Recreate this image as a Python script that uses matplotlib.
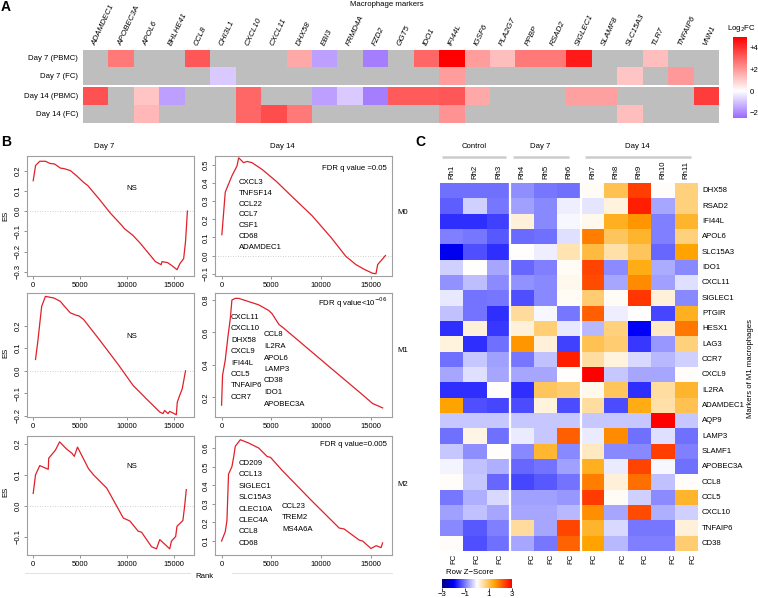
import numpy as np
import matplotlib
matplotlib.use('Agg')
import matplotlib.pyplot as plt
from matplotlib.colors import LinearSegmentedColormap
from matplotlib.lines import Line2D

plt.rcParams['font.family'] = ['Liberation Sans', 'DejaVu Sans']

# ---------------- Panel A data ----------------
genes_a = ['ADAMDEC1', 'APOBEC3A', 'APOL6', 'BHLHE41', 'CCL8', 'CHI3L1', 'CXCL10', 'CXCL11',
           'DHX58', 'EBI3', 'FRMD4A', 'FZD2', 'GGT5', 'IDO1', 'IFI44L', 'IGSF6', 'PLA2G7',
           'PPBP', 'RSAD2', 'SIGLEC1', 'SLAMF8', 'SLC15A3', 'TLR7', 'TNFAIP6', 'VNN1']
conditions_a = ['Day 7 (PBMC)', 'Day 7 (FC)', 'Day 14 (PBMC)', 'Day 14 (FC)']
nan = np.nan
day7_pbmc = [nan, 2.6, nan, nan, 3.3, nan, nan, nan, 1.7, -1.6, nan, -2.2, nan, 3.0, 5.0,
             1.9, 1.25, 2.6, 2.6, 4.5, nan, nan, 1.25, nan, nan]
day7_fc = [nan, nan, nan, nan, nan, -0.9, nan, nan, nan, nan, nan, nan, nan, nan, 1.9,
           nan, nan, nan, nan, nan, nan, 1.15, nan, 2.0, nan]
day14_pbmc = [3.4, nan, 1.15, -1.6, nan, nan, 3.0, nan, nan, -1.6, -0.9, -2.2, 3.2, 3.2, 3.3,
              1.7, nan, nan, nan, 1.85, 1.85, nan, nan, nan, 3.8]
day14_fc = [nan, nan, 1.4, nan, nan, nan, 3.0, 3.5, 2.6, nan, nan, nan, nan, nan, 2.1,
            nan, nan, nan, nan, nan, nan, 1.25, nan, nan, nan]
cbar_a_ticks = [4, 2, 0, -2]
cbar_a_labels = ['+4', '+2', '0', '\u22122']

# ---------------- Panel B data (running enrichment score) ----------------
d7_m0_rank = [0, 250, 700, 1300, 1800, 2250, 2900, 3250, 3950, 4600, 5350, 5800, 7000, 8200,
              9400, 9700, 10600, 11400, 12200, 13000, 13600, 13700, 14300, 14900, 15300,
              15600, 16000, 16200, 16400]
d7_m0_es = [0.15, 0.225, 0.246, 0.246, 0.235, 0.233, 0.212, 0.21, 0.2, 0.175, 0.142, 0.126,
            0.06, -0.01, -0.07, -0.087, -0.12, -0.16, -0.205, -0.25, -0.265, -0.25, -0.255,
            -0.275, -0.29, -0.26, -0.235, -0.15, 0.0]
d14_m0_rank = [30, 370, 1040, 1550, 1720, 2220, 2560, 3060, 4070, 5500, 7000, 9100, 11000,
               12500, 12840, 13500, 14300, 15180, 15520, 15690, 16470]
d14_m0_es = [0.115, 0.35, 0.44, 0.495, 0.54, 0.513, 0.52, 0.513, 0.476, 0.41, 0.33, 0.22, 0.1,
             -0.005, -0.02, -0.05, -0.075, -0.098, -0.1, -0.05, 0.0]
d7_m1_rank = [245, 490, 700, 900, 1300, 2180, 2890, 3240, 3940, 4650, 4800, 5350, 7000, 9000,
              10640, 11170, 11340, 12050, 13460, 13800, 13980, 14340, 14510, 15220, 15320,
              15570, 15850, 16200]
d7_m1_es = [0.05, 0.13, 0.21, 0.286, 0.33, 0.323, 0.308, 0.29, 0.257, 0.245, 0.245, 0.228,
            0.14, 0.03, -0.066, -0.088, -0.095, -0.125, -0.183, -0.19, -0.176, -0.19, -0.18,
            -0.195, -0.14, -0.11, -0.08, 0.0]
d14_m1_rank = [0, 100, 370, 640, 880, 1040, 1380, 1720, 2730, 3740, 4750, 5080, 5760, 6260,
               10810, 14010, 15180, 16190]
d14_m1_es = [0.153, 0.337, 0.43, 0.574, 0.687, 0.8, 0.81, 0.81, 0.79, 0.77, 0.735, 0.715,
             0.65, 0.626, 0.39, 0.225, 0.163, 0.136]
d7_m2_rank = [0, 245, 700, 1600, 1650, 2360, 2810, 3500, 4120, 4370, 4710, 5880, 6410, 7820,
              9580, 10290, 11170, 11520, 12580, 13110, 13460, 14520, 14700, 15150, 15290,
              15920, 16100, 16280]
d7_m2_es = [0.04, 0.1, 0.13, 0.118, 0.154, 0.18, 0.207, 0.185, 0.17, 0.16, 0.19, 0.12, 0.1,
            0.057, -0.04, -0.05, -0.083, -0.086, -0.133, -0.14, -0.11, -0.14, -0.115, -0.1,
            -0.067, -0.048, -0.002, 0.052]
d14_m2_rank = [0, 370, 540, 700, 1040, 1210, 1380, 1890, 2730, 3740, 4580, 4920, 6090, 9000,
               11820, 12320, 13840, 14180, 15020, 15530, 16030, 16190]
d14_m2_es = [0.1, 0.15, 0.21, 0.46, 0.5, 0.55, 0.61, 0.645, 0.627, 0.6, 0.555, 0.55, 0.48,
             0.32, 0.17, 0.165, 0.105, 0.1, 0.06, 0.075, 0.065, 0.09]
m0_genes = ['CXCL3', 'TNFSF14', 'CCL22', 'CCL7', 'CSF1', 'CD68', 'ADAMDEC1']
m1_genes_a = ['CXCL11', 'CXCL10', 'DHX58', 'CXCL9', 'IFI44L', 'CCL5', 'TNFAIP6', 'CCR7']
m1_genes_b = ['CCL8', 'IL2RA', 'APOL6', 'LAMP3', 'CD38', 'IDO1', 'APOBEC3A']
m2_genes_a = ['CD209', 'CCL13', 'SIGLEC1', 'SLC15A3', 'CLEC10A', 'CLEC4A', 'CCL8', 'CD68']
m2_genes_b = ['CCL23', 'TREM2', 'MS4A6A']

# ---------------- Panel C data (row z-scores) ----------------
samples_c = ['Rh1', 'Rh2', 'Rh3', 'Rh4', 'Rh5', 'Rh6', 'Rh7', 'Rh8', 'Rh9', 'Rh10', 'Rh11']
groups_c = ['Control', 'Day 7', 'Day 14']
genes_c = ['DHX58', 'RSAD2', 'IFI44L', 'APOL6', 'SLC15A3', 'IDO1', 'CXCL11', 'SIGLEC1', 'PTGIR',
           'HESX1', 'LAG3', 'CCR7', 'CXCL9', 'IL2RA', 'ADAMDEC1', 'AQP9', 'LAMP3', 'SLAMF1',
           'APOBEC3A', 'CCL8', 'CCL5', 'CXCL10', 'TNFAIP6', 'CD38']
zscores = [
    [-1.12, -1.12, -1.12, -0.87, -1.06, -1.12, 0.05, 1.03, 2.42, 0.03, 0.75],
    [-1.25, -0.37, -1.06, -0.75, -0.93, -0.12, -0.2, 0.2, 2.71, -0.68, 0.75],
    [-1.62, -1.62, -1.5, 0.23, -0.93, -0.05, 0.11, 1.31, 1.62, -1.0, 1.22],
    [-1.0, -1.06, -1.31, -1.15, -1.12, -0.24, 1.84, 0.94, 1.22, -1.0, 0.75],
    [-2.1, -1.37, -1.62, 0.02, -0.12, 0.45, 1.12, 0.51, 0.94, -1.18, 1.5],
    [-0.37, 0.02, -0.68, -1.18, -1.0, 0.05, 2.38, -0.9, 1.36, -0.65, -0.93],
    [-0.85, -0.5, -0.9, -0.85, -0.93, 0.1, 2.31, -0.68, 1.73, -0.75, -0.24],
    [-0.18, -1.1, -1.06, -1.37, -0.93, 0.05, 0.84, 0.07, 2.49, 0.23, -0.93],
    [-0.49, -1.1, -1.62, 0.58, -0.05, -1.06, 2.13, -0.14, 0.02, -1.44, 1.31],
    [-1.62, 0.23, -1.56, 0.23, 0.8, -0.18, -0.56, 0.75, -2.0, 0.35, 1.91],
    [0.2, -1.62, -1.12, 1.62, 0.23, -1.5, 1.03, 0.84, -1.56, -0.81, 0.75],
    [-1.12, -0.43, -0.75, -1.06, -0.49, 2.71, 0.56, 0.2, -0.3, -0.56, -0.37],
    [-0.68, -0.24, -0.68, -0.68, -0.68, 0.0, 3.0, -0.43, -0.68, -0.68, 0.03],
    [-1.62, -1.62, 0.0, -1.62, 0.94, 0.84, 0.11, 0.94, -1.62, 0.56, 1.22],
    [1.5, -1.37, -1.44, -1.4, 0.2, -1.4, 0.56, -1.4, 1.36, 0.51, 1.03],
    [-0.43, -0.43, -0.43, -0.43, -0.43, -0.43, -0.43, -0.43, -0.43, 3.0, -0.43],
    [-1.12, 0.15, -1.12, -0.15, -0.43, 2.13, -0.15, 1.73, -1.12, -0.24, -1.12],
    [-0.43, -0.87, 0.0, -0.93, 1.2, -0.93, 0.37, -0.93, -0.93, 2.42, -1.0],
    [-0.08, -0.49, -0.62, -1.18, -1.09, -0.75, 1.31, -0.15, 2.38, -0.05, -1.12],
    [0.03, -0.43, -1.18, -1.44, -1.31, -1.09, 1.84, 0.23, 1.98, -0.49, 0.03],
    [-1.06, -0.62, -0.3, -0.75, -0.75, -0.8, 2.45, 0.07, -0.37, -0.9, 1.22],
    [-0.75, -0.49, -0.68, -0.68, -0.68, -0.55, 1.69, -0.68, 2.31, -0.62, -0.37],
    [-0.93, -1.31, -1.0, 0.58, -0.68, 2.35, 1.22, -0.3, -1.06, -1.06, 0.23],
    [0.04, -1.37, -1.12, -0.68, -1.06, 2.09, 1.5, -0.55, -1.0, -1.0, 0.84],
]
cbar_c_ticks = [-3, -1, 1, 3]

# ---------------- figure helpers ----------------
W, H = 758, 598
fig = plt.figure(figsize=(W / 100, H / 100), dpi=100)
FS = 5.6


def rect(x0, y0, x1, y1):
    return [x0 / W, 1 - y1 / H, (x1 - x0) / W, (y1 - y0) / H]


def ftext(x, y, s, **kw):
    kw.setdefault('fontsize', FS)
    fig.text(x / W, 1 - y / H, s, **kw)


def fline(x0, x1, y, **kw):
    fig.add_artist(Line2D([x0 / W, x1 / W], [1 - y / H, 1 - y / H], **kw))


# ---------------- Panel A ----------------
ftext(1, 7, 'A', fontsize=10, fontweight='bold', va='center', ha='left')
axA = fig.add_axes(rect(83, 50, 719, 123.3))
cmapA = LinearSegmentedColormap.from_list('lfc', [(0, '#9A6CFF'), (2.5 / 7.5, '#FFFFFF'), (1, '#FF0000')])
cmapA.set_bad('#BEBEBE')
dataA = np.array([day7_pbmc, day7_fc, day14_pbmc, day14_fc], dtype=float)
ng = len(genes_a)
gap = 0.18
for start, y0 in [(0, 0.0), (2, 2.0 + gap)]:
    axA.imshow(np.ma.masked_invalid(dataA[start:start + 2]), cmap=cmapA, vmin=-2.5, vmax=5,
               aspect='auto', interpolation='nearest', extent=[0, ng, y0 + 2, y0])
axA.set_xlim(0, ng)
axA.set_ylim(4 + gap, 0)
axA.axis('off')
for i, c in enumerate(conditions_a):
    yc = i + 0.5 + (gap if i >= 2 else 0)
    axA.text(-0.2, yc, c, ha='right', va='center', fontsize=FS)
for i, g in enumerate(genes_a):
    axA.text(i + 0.45, -0.25, g, rotation=65, ha='left', va='center', rotation_mode='anchor',
             fontsize=5.8, style='italic')
ftext(387, 5, 'Macrophage markers', ha='center', va='center')

axAc = fig.add_axes(rect(733, 37, 747, 118))
grad = np.linspace(5, -2.5, 200).reshape(-1, 1)
axAc.imshow(grad, cmap=cmapA, vmin=-2.5, vmax=5, aspect='auto', extent=[0, 1, -2.5, 5])
axAc.set_xticks([])
axAc.yaxis.tick_right()
axAc.set_yticks(cbar_a_ticks)
axAc.set_yticklabels(cbar_a_labels)
axAc.tick_params(axis='y', length=0, labelsize=FS, pad=2)
for s in axAc.spines.values():
    s.set_visible(False)
ftext(741, 28, 'Log$_2$FC', ha='center', va='center')

# ---------------- Panel B ----------------
ftext(1, 142, 'B', fontsize=10, fontweight='bold', va='center', ha='left')
RED = '#E0202A'


def gsea(px, ranks, es, xlim, ylim, yticks):
    ax = fig.add_axes(rect(*px))
    ax.axhline(0, color='#C0C0C0', lw=0.6, ls=(0, (1, 2)), zorder=1)
    ax.plot(ranks, es, color=RED, lw=0.9, zorder=3)
    ax.set_xlim(*xlim)
    ax.set_ylim(*ylim)
    ax.set_xticks([0, 5000, 10000, 15000])
    ax.set_xticklabels(['0', '5000', '10000', '15000'])
    ax.set_yticks(yticks)
    ax.set_yticklabels([('%.1f' % t).replace('-', '\u2212') for t in yticks], rotation=90,
                       va='center')
    for s in ax.spines.values():
        s.set_color('#A0A0A0')
        s.set_linewidth(0.8)
    ax.tick_params(length=2.5, width=0.6, color='#808080', labelsize=5.5, pad=1.5)
    return ax


XL = (-660, 17100)
XR = (-660, 17130)
gsea((27, 156, 194, 276), d7_m0_rank, d7_m0_es, XL, (-0.321, 0.272), [-0.3, -0.2, -0.1, 0.0, 0.1, 0.2])
gsea((215, 156, 392, 276), d14_m0_rank, d14_m0_es, XR, (-0.113, 0.55), [-0.1, 0.0, 0.1, 0.2, 0.3, 0.4, 0.5])
gsea((27, 293, 194, 417), d7_m1_rank, d7_m1_es, XL, (-0.205, 0.345), [-0.2, -0.1, 0.0, 0.1, 0.2])
gsea((215, 293, 392, 417), d14_m1_rank, d14_m1_es, XR, (0.08, 0.843), [0.2, 0.4, 0.6, 0.8])
gsea((27, 436, 194, 555), d7_m2_rank, d7_m2_es, XL, (-0.16, 0.226), [-0.1, 0.0, 0.1, 0.2])
gsea((215, 436, 392, 555), d14_m2_rank, d14_m2_es, XR, (0.025, 0.665), [0.1, 0.2, 0.3, 0.4, 0.5, 0.6])

ftext(104, 147, 'Day 7', ha='center', va='center')
ftext(282, 147, 'Day 14', ha='center', va='center')
for yy in (216, 353, 492):
    ftext(6, yy, 'ES', rotation=90, ha='center', va='center')
for yy in (188, 336, 467):
    ftext(132, yy, 'NS', ha='center', va='center')
for yy, lab in ((212, 'M0'), (351, 'M1'), (485, 'M2')):
    ftext(397, yy, lab, ha='left', va='center')
ftext(387, 168, 'FDR q value =0.05', ha='right', va='center')
ftext(387, 303, 'FDR q value<10$^{-06}$', ha='right', va='center')
ftext(387, 445, 'FDR q value=0.005', ha='right', va='center')
for k, g in enumerate(m0_genes):
    ftext(239, 182.7 + 10.75 * k, g, ha='left', va='center')
for k, g in enumerate(m1_genes_a):
    ftext(231, 317.3 + 11.43 * k, g, ha='left', va='center')
for k, g in enumerate(m1_genes_b):
    ftext(264, 335 + 11.5 * k, g, ha='left', va='center')
for k, g in enumerate(m2_genes_a):
    ftext(239, 463.3 + 11.43 * k, g, ha='left', va='center')
for k, g in enumerate(m2_genes_b):
    ftext(282, 506 + 11.65 * k, g, ha='left', va='center')
fline(25, 190, 573, color='#DDDDDD', lw=0.6)
fline(232, 392, 573, color='#DDDDDD', lw=0.6)
ftext(204, 576, 'Rank', ha='center', va='center')

# ---------------- Panel C ----------------
ftext(415, 142, 'C', fontsize=10, fontweight='bold', va='center', ha='left')
cmapC = LinearSegmentedColormap.from_list('z', [(0, '#000080'), (1 / 6, '#0000FF'), (0.5, '#FFFFFF'),
                                               (0.75, '#FFA500'), (1, '#FF0000')])
Z = np.array(zscores, dtype=float)
nr, nc = Z.shape
axC = fig.add_axes(rect(440, 183, 698, 551))
axC.imshow(Z, cmap=cmapC, vmin=-3, vmax=3, aspect='auto', interpolation='nearest',
           extent=[0, nc, nr, 0])
axC.axvline(3, color='white', lw=1.6)
axC.axvline(6, color='white', lw=1.6)
axC.set_xlim(0, nc)
axC.set_ylim(nr, 0)
axC.axis('off')
for i, g in enumerate(genes_c):
    axC.text(nc + 0.17, i + 0.5, g, ha='left', va='center', fontsize=FS)
for j, s in enumerate(samples_c):
    axC.text(j + 0.5, -0.25, s, rotation=90, ha='center', va='bottom', fontsize=FS)
fc_px = [454, 477, 500, 532, 551, 571, 594, 623, 645, 673, 693]
for xp in fc_px:
    ftext(xp, 554, 'FC', rotation=90, ha='center', va='top')
group_spans = [(0.1, 2.8), (3.1, 5.5), (6.2, 10.7)]
group_centers = [1.45, 4.26, 8.4]
for g, (a, b), cx in zip(groups_c, group_spans, group_centers):
    axC.plot([a, b], [-1.7, -1.7], color='#CCCCCC', lw=1.8, clip_on=False, solid_capstyle='butt')
    axC.text(cx, -2.4, g, ha='center', va='center', fontsize=FS)
ftext(750, 368, 'Markers of M1 macrophages', rotation=90, ha='center', va='center')

axCc = fig.add_axes(rect(442, 579, 512, 588))
gradc = np.linspace(-3, 3, 300).reshape(1, -1)
axCc.imshow(gradc, cmap=cmapC, vmin=-3, vmax=3, aspect='auto', extent=[-3, 3, 0, 1])
axCc.set_yticks([])
axCc.set_xticks(cbar_c_ticks)
axCc.set_xticklabels([str(t).replace('-', '\u2212') for t in cbar_c_ticks])
axCc.tick_params(axis='x', length=2, width=0.5, labelsize=FS, pad=0.5)
for s in axCc.spines.values():
    s.set_visible(False)
ftext(446, 572, 'Row Z\u2212Score', ha='left', va='center')

fig.savefig('out.png', dpi=100)
